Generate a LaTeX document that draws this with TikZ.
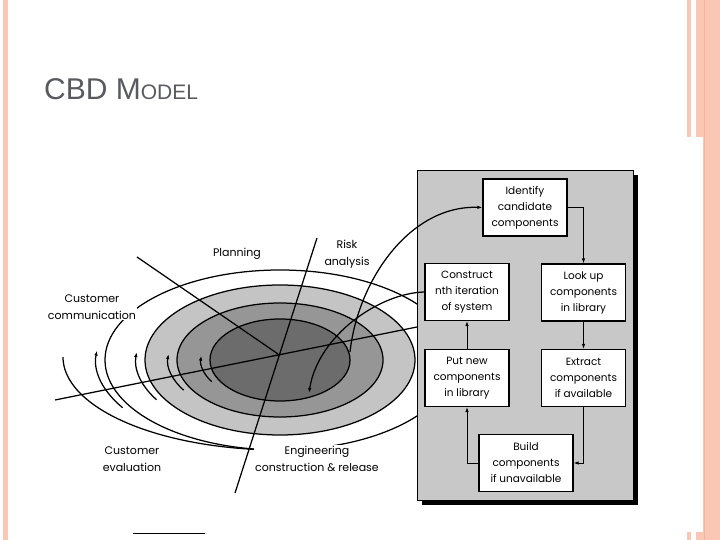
\documentclass[tikz,border=0pt]{standalone}
\usepackage{fontspec}
\setmainfont{Liberation Sans}
\newfontfamily\figfont{Poppins}
\usetikzlibrary{arrows.meta}

\definecolor{slidesalmon}{RGB}{249,199,180}
\definecolor{slidesalmondk}{RGB}{242,180,158}
\definecolor{titlegray}{RGB}{88,90,94}
\definecolor{panelgray}{RGB}{200,200,200}
\definecolor{ringlight}{RGB}{196,196,196}
\definecolor{ringmid}{RGB}{150,150,150}
\definecolor{ringdark}{RGB}{108,108,108}

\tikzset{
  compbox/.style={draw, line width=1.2pt, fill=white, minimum width=84pt, minimum height=57pt,
    align=center, inner sep=1pt, font=\figfont\fontsize{10.5}{16}\selectfont},
  spirallabel/.style={fill=white, inner sep=1pt, align=center, font=\figfont\fontsize{11}{17}\selectfont},
  ring/.style={draw, line width=1.25pt},
  flow/.style={->, line width=0.8pt},
}

\begin{document}
\begin{tikzpicture}[x=1pt,y=1pt,>={Latex[length=5pt,width=3.5pt]}]
\useasboundingbox (0,0) rectangle (720,540);

\fill[slidesalmon] (3,0) rectangle (8,540);
\fill[slidesalmon] (687,403) rectangle (691,540);
\fill[slidesalmon] (696,403) rectangle (703,540);
\fill[slidesalmon] (687,0) rectangle (691,8);
\fill[slidesalmon] (696,0) rectangle (703,8);
\fill[slidesalmon] (703,0) rectangle (720,540);
\draw[slidesalmondk] (704.5,0) -- (704.5,540);

\node[anchor=base west, inner sep=0, text=titlegray] (title) at (44,440)
  {\fontsize{30}{36}\selectfont CBD M\fontsize{21}{24}\selectfont ODEL};
\draw[line width=0.8pt] (133,7) -- (205,7);

\draw[ring, fill=ringlight] (280,180) ellipse [x radius=135, y radius=75];
\draw[ring, fill=ringmid] (280,180) ellipse [x radius=103, y radius=57];
\draw[ring, fill=ringdark] (280,180) ellipse [x radius=70, y radius=41];
\draw[ring] (280,180) ellipse [x radius=175, y radius=90];
\draw[ring] (63,183) arc [start angle=180, end angle=275, x radius=217, y radius=93];

\foreach \rx/\ry in {70/41, 103/57, 135/75, 175/90}
  \draw[ring, ->] ([shift={(271,180)}]212:\rx\space and \ry)
    arc [start angle=212, end angle=174, x radius=\rx, y radius=\ry];

\coordinate (hub) at (278,186);
\draw[ring] (137,283) -- (hub);
\draw[ring] (317,302) -- (235,47);
\draw[ring] (55,140) -- (417,213);

\node[spirallabel] (planning) at (237,286) {Planning};
\node[spirallabel] (risk) at (347,286) {Risk\\analysis};
\node[spirallabel] (custcomm) at (92,233) {Customer\\communication};
\node[spirallabel] (custeval) at (132,81) {Customer\\evaluation};
\node[spirallabel] (engineering) at (317,81) {Engineering\\construction \& release};

\fill (422,35) rectangle (638,365);
\draw[fill=panelgray] (417,40) rectangle (633,370);

\node[compbox] (identify) at (525,332.5) {Identify\\candidate\\components};
\node[compbox] (construct) at (467,248) {Construct\\nth iteration\\of system};
\node[compbox] (lookup) at (583.5,247.5) {Look up\\components\\in library};
\node[compbox] (putnew) at (467,162) {Put new\\components\\in library};
\node[compbox] (extract) at (583.5,162) {Extract\\components\\if available};
\node[compbox, minimum width=94pt] (build) at (526,77) {Build\\components\\if unavailable};

\draw[flow] (identify.east) -| (lookup.north);
\draw[flow] (lookup) -- (extract);
\draw[flow] (extract.south) |- (build.east);
\draw[flow] (build.west) -| (putnew.south);
\draw[flow] (putnew) -- (construct);

\coordinate (spiralstart) at (350,188);
\coordinate (spiralend) at (309,147);
\draw[ring, ->] (spiralstart) .. controls (358,260) and (410,335) .. (identify.west);
\draw[ring, ->] (construct.west) .. controls (380,247) and (318,205) .. (spiralend);
\end{tikzpicture}
\end{document}
